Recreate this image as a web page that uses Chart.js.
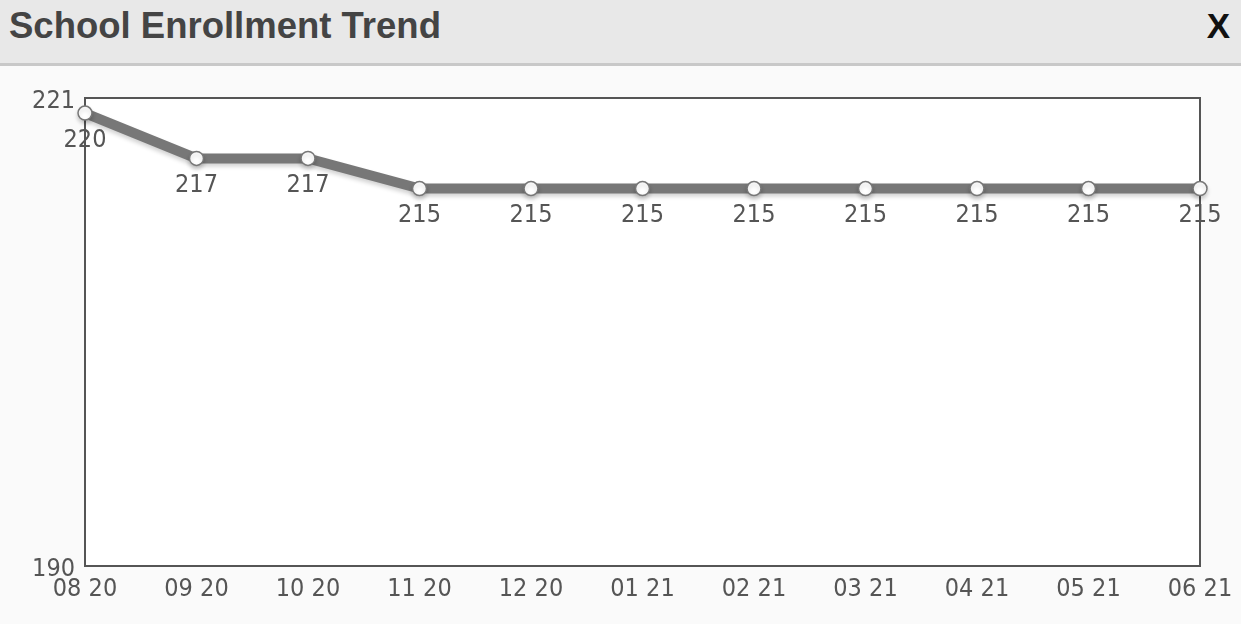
<!DOCTYPE html>
<html>
<head>
<meta charset="utf-8">
<script src="https://cdn.jsdelivr.net/npm/chart.js@4"></script>
<style>
  html, body { margin: 0; padding: 0; background: #fafafa; width: 1241px; height: 624px; overflow: hidden; }
  .cabecalho {
    position: absolute; left: 0; top: 0; width: 1241px; height: 63px;
    background: #e8e8e8; border-bottom: 3px solid #c8c8c8;
  }
  .titulo {
    position: absolute; left: 9px; top: 5px;
    font: bold 36.5px "Liberation Sans", Arial, sans-serif; color: #444;
  }
  .fechar {
    position: absolute; right: 11px; top: 6px;
    font: bold 35px "Liberation Sans", Arial, sans-serif; color: #111;
  }
  .area { position: absolute; left: 0; top: 66px; width: 1241px; height: 558px; }
</style>
</head>
<body>
<div class="cabecalho">
  <div class="titulo">School Enrollment Trend</div>
  <div class="fechar">X</div>
</div>
<div class="area"><canvas id="grafico"></canvas></div>
<script>
const meses = ["08 20", "09 20", "10 20", "11 20", "12 20", "01 21", "02 21", "03 21", "04 21", "05 21", "06 21"];
const matriculas = [220, 217, 217, 215, 215, 215, 215, 215, 215, 215, 215];
const ticksY = [190, 221];

const familia = "'DejaVu Sans Condensed', 'DejaVu Sans', Verdana, sans-serif";
const fonteEixo = { family: familia, size: 25 };

// moldura + etiquetas por baixo dos pontos
const pluginMoldura = {
  id: "moldura",
  beforeDatasetsDraw(chart) {
    const { ctx, chartArea: a } = chart;
    ctx.save();
    ctx.fillStyle = "#fff";
    ctx.fillRect(a.left, a.top, a.right - a.left, a.bottom - a.top);
    const meta = chart.getDatasetMeta(0);
    ctx.font = "25px " + familia;
    ctx.fillStyle = "#555";
    ctx.textAlign = "center";
    ctx.textBaseline = "middle";
    meta.data.forEach((p, i) => {
      ctx.fillText(String(matriculas[i]), p.x, p.y + 27);
    });
    ctx.strokeStyle = "#555";
    ctx.lineWidth = 2;
    ctx.strokeRect(a.left, a.top, a.right - a.left, a.bottom - a.top);
    ctx.restore();
  },
  beforeDatasetDraw(chart) {
    const ctx = chart.ctx;
    ctx.save();
    ctx.shadowColor = "rgba(0,0,0,0.18)";
    ctx.shadowBlur = 4;
    ctx.shadowOffsetY = 3;
  },
  afterDatasetDraw(chart) {
    chart.ctx.restore();
  }
};

new Chart(document.getElementById("grafico"), {
  type: "line",
  data: {
    labels: meses,
    datasets: [{
      data: matriculas,
      borderColor: "#777",
      borderWidth: 10,
      pointRadius: 7,
      pointBackgroundColor: "#fff",
      pointBorderColor: "#777",
      pointBorderWidth: 1.5,
      tension: 0,
      clip: false
    }]
  },
  options: {
    responsive: true,
    maintainAspectRatio: false,
    animation: false,
    layout: { padding: { top: 32, right: 41, bottom: 0, left: 0 } },
    plugins: { legend: { display: false }, tooltip: { enabled: false } },
    scales: {
      x: {
        offset: false,
        afterFit: s => { s.height = 58; },
        grid: { display: false, drawTicks: false },
        border: { display: false },
        ticks: { color: "#555", font: fonteEixo, padding: 8, maxRotation: 0, autoSkip: false }
      },
      y: {
        min: 190,
        max: 221,
        afterBuildTicks: s => { s.ticks = ticksY.map(v => ({ value: v })); },
        afterFit: s => { s.width = 85; },
        grid: { display: false, drawTicks: false },
        border: { display: false },
        ticks: { color: "#555", font: fonteEixo, padding: 10, labelOffset: 3 }
      }
    }
  },
  plugins: [pluginMoldura]
});
</script>
</body>
</html>
